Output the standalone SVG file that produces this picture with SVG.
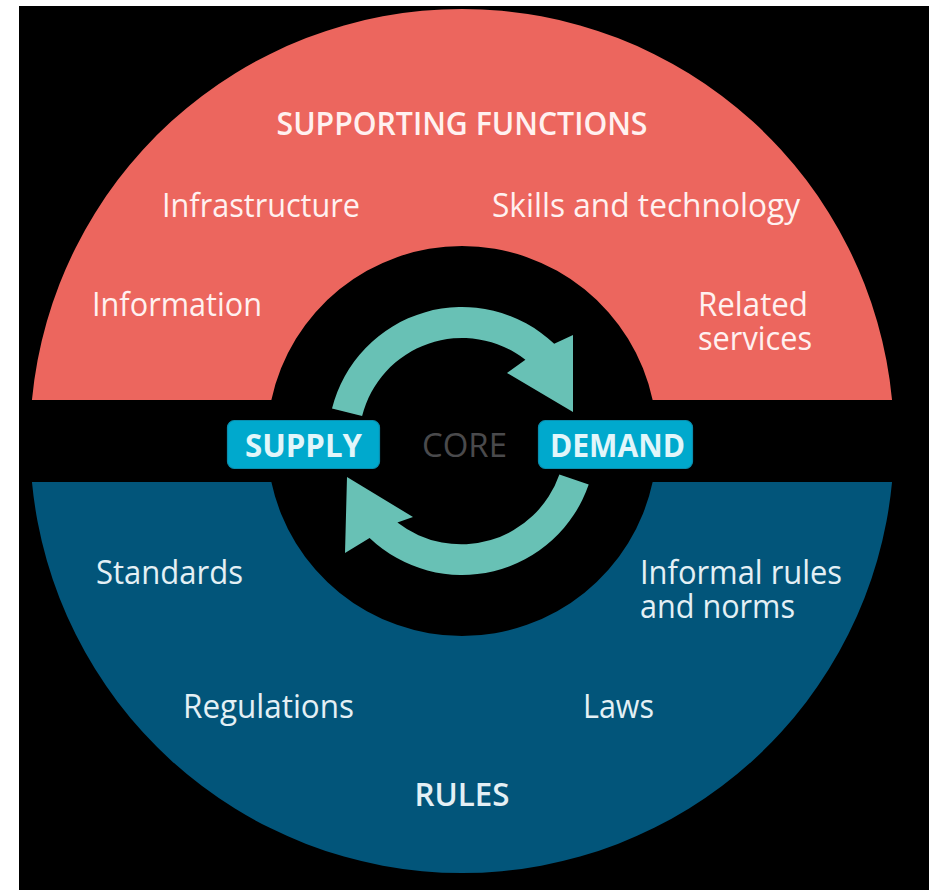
<svg xmlns="http://www.w3.org/2000/svg" width="929" height="890" viewBox="0 0 929 890">
  <style>
    .t { font-family: "Open Sans", "Liberation Sans", sans-serif; font-size: 33px; }
    .red-t { fill: #FFF1F0; }
    .blue-t { fill: #E4F0F5; }
    .head { font-weight: 600; font-size: 32px; }
    .lbl { font-weight: 700; fill: #E2F6FA; text-anchor: middle; }
    .box { fill: #00A9CD; stroke: #0A8DAD; stroke-width: 1.2; }
    .arrow { fill: #68C1B5; }
  </style>
  <rect x="0" y="0" width="929" height="890" fill="#FFFFFF"/>
  <rect x="19" y="6" width="910" height="884" fill="#000000"/>

  <g id="supporting-functions">
    <path d="M 31.95 400 A 432 432 0 0 1 892.05 400 L 652.64 400 A 195 195 0 0 0 271.36 400 Z" fill="#EC665E"/>
    <text class="t red-t head" x="462" y="135" text-anchor="middle" textLength="371" lengthAdjust="spacingAndGlyphs">SUPPORTING FUNCTIONS</text>
    <text class="t red-t" x="162" y="217" textLength="198" lengthAdjust="spacingAndGlyphs">Infrastructure</text>
    <text class="t red-t" x="492" y="217" textLength="308" lengthAdjust="spacingAndGlyphs">Skills and technology</text>
    <text class="t red-t" x="92" y="316" textLength="170" lengthAdjust="spacingAndGlyphs">Information</text>
    <text class="t red-t" x="698" y="316" textLength="110" lengthAdjust="spacingAndGlyphs">Related</text>
    <text class="t red-t" x="698" y="350" textLength="114" lengthAdjust="spacingAndGlyphs">services</text>
  </g>

  <g id="rules">
    <path d="M 31.95 482 A 432 432 0 0 0 892.05 482 L 652.64 482 A 195 195 0 0 1 271.36 482 Z" fill="#02557A"/>
    <text class="t blue-t" x="96" y="584" textLength="147" lengthAdjust="spacingAndGlyphs">Standards</text>
    <text class="t blue-t" x="640" y="584" textLength="202" lengthAdjust="spacingAndGlyphs">Informal rules</text>
    <text class="t blue-t" x="640" y="618" textLength="155" lengthAdjust="spacingAndGlyphs">and norms</text>
    <text class="t blue-t" x="183" y="718" textLength="171" lengthAdjust="spacingAndGlyphs">Regulations</text>
    <text class="t blue-t" x="583" y="718" textLength="71" lengthAdjust="spacingAndGlyphs">Laws</text>
    <text class="t blue-t head" x="462" y="806" text-anchor="middle" textLength="95" lengthAdjust="spacingAndGlyphs">RULES</text>
  </g>

  <g id="connectors">
    <path class="arrow" d="M 332.0 408.6 A 134 134 0 0 1 554.2 343.8 L 573 335 L 573 412 L 507 373 L 525.4 359.8 A 103 103 0 0 0 362.1 416.1 Z"/>
    <path class="arrow" d="M 588.7 484.6 A 134 134 0 0 1 369.6 538.0 L 345 553 L 347 477 L 413 517 L 397.4 522.5 A 104 104 0 0 0 559.4 474.5 Z"/>
  </g>

  <g id="core">
    <text class="t" x="464.5" y="457" text-anchor="middle" fill="#4A4A4C" textLength="85" lengthAdjust="spacingAndGlyphs">CORE</text>
  </g>

  <g id="supply">
    <rect class="box" x="227.5" y="420.5" width="152" height="48" rx="7"/>
    <text class="t lbl" x="303.5" y="457" textLength="117" lengthAdjust="spacingAndGlyphs">SUPPLY</text>
  </g>

  <g id="demand">
    <rect class="box" x="538.5" y="420.5" width="154" height="48" rx="7"/>
    <text class="t lbl" x="617.5" y="457" textLength="135" lengthAdjust="spacingAndGlyphs">DEMAND</text>
  </g>
</svg>
